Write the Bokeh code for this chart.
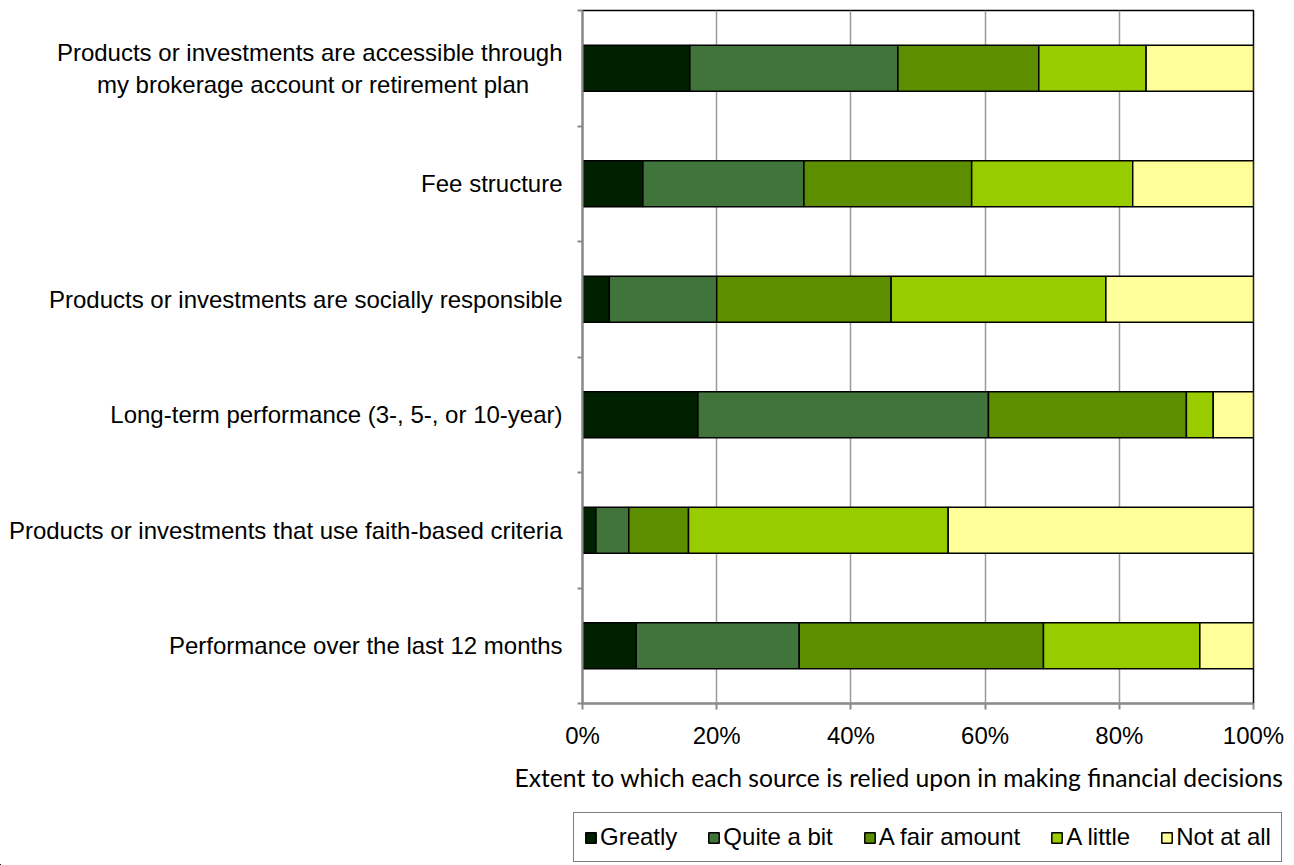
from bokeh.plotting import figure
from bokeh.models import (ColumnDataSource, Range1d, FixedTicker, Legend,
                          LegendItem, PrintfTickFormatter, Title)
from bokeh.embed import file_html
from bokeh.resources import INLINE

# Factors, listed from the top of the chart to the bottom
categories = [
    "Products or investments are accessible through\nmy brokerage account or retirement plan",
    "Fee structure",
    "Products or investments are socially responsible",
    "Long-term performance (3-, 5-, or 10-year)",
    "Products or investments that use faith-based criteria",
    "Performance over the last 12 months",
]

# Share of respondents (%) for each answer
greatly = [16.0, 9.0, 4.0, 17.2, 2.0, 8.0]
quite_a_bit = [31.0, 24.0, 16.0, 43.3, 4.9, 24.3]
a_fair_amount = [21.0, 25.0, 26.0, 29.5, 8.9, 36.4]
a_little = [16.0, 24.0, 32.0, 4.0, 38.7, 23.3]
not_at_all = [16.0, 18.0, 22.0, 6.0, 45.5, 8.0]

series_labels = ["Greatly", "Quite a bit", "A fair amount", "A little", "Not at all"]
series_keys = ["greatly", "quite_a_bit", "a_fair_amount", "a_little", "not_at_all"]
colors = ["#002000", "#41743A", "#5C8E00", "#99CC00", "#FFFF99"]

x_ticks = [0, 20, 40, 60, 80, 100]
x_title = "Extent to which each source is relied upon in making financial decisions"

n = len(categories)
# first category sits in the top band
y_pos = [n - i - 0.5 for i in range(n)]


def centred_lines(name):
    """Tick labels are right-aligned; pad shorter lines with no-break spaces
    (an average letter is about 1.4 spaces wide) so the lines look centred."""
    lines = name.split("\n")
    if len(lines) == 1:
        return name
    longest = max(len(s) for s in lines)
    return "\n".join(s + "\u00a0" * int(round((longest - len(s)) * 1.4 / 2)) for s in lines)


source = ColumnDataSource(dict(
    y=y_pos,
    greatly=greatly,
    quite_a_bit=quite_a_bit,
    a_fair_amount=a_fair_amount,
    a_little=a_little,
    not_at_all=not_at_all,
))

AXIS_GRAY = "#8a8a8a"
SANS = "Liberation Sans"
BAR_STYLE = dict(height=0.4, line_color="black", line_width=1.5)

p = figure(frame_width=671, frame_height=693, output_backend="svg", toolbar_location=None,
           x_range=Range1d(0, 100), y_range=Range1d(0, n),
           min_border_left=582, min_border_right=41, min_border_top=10,
           min_border_bottom=102)
p.background_fill_color = "white"
p.border_fill_color = "white"
p.outline_line_color = "black"
p.outline_line_width = 1.5

p.hbar_stack(series_keys, y="y", color=colors, source=source, **BAR_STYLE)

# x axis: percent scale with outward ticks
xa = p.xaxis[0]
xa.ticker = FixedTicker(ticks=x_ticks)
xa.formatter = PrintfTickFormatter(format="%d%%")
xa.axis_line_color = AXIS_GRAY
xa.axis_line_width = 2
xa.major_tick_line_color = AXIS_GRAY
xa.major_tick_line_width = 2
xa.major_tick_out = 6
xa.major_tick_in = 0
xa.minor_tick_line_color = None
xa.major_label_standoff = 12
xa.major_label_text_font = SANS
xa.major_label_text_font_size = "24px"
xa.major_label_text_color = "black"

# y axis: ticks between the category bands, category names at the band centres
ya = p.yaxis[0]
ya.ticker = FixedTicker(ticks=y_pos, minor_ticks=list(range(n + 1)))
ya.major_label_overrides = {y: centred_lines(name) for y, name in zip(y_pos, categories)}
ya.axis_line_color = AXIS_GRAY
ya.axis_line_width = 2
ya.major_tick_line_color = None
ya.major_tick_out = 0
ya.major_tick_in = 0
ya.minor_tick_line_color = AXIS_GRAY
ya.minor_tick_line_width = 2
ya.minor_tick_out = 5
ya.minor_tick_in = 0
ya.major_label_standoff = 15
ya.major_label_text_font = SANS
ya.major_label_text_font_size = "24px"
ya.major_label_text_color = "black"

p.ygrid.visible = False
p.xgrid.ticker = FixedTicker(ticks=x_ticks[1:-1])
p.xgrid.grid_line_color = "#9a9a9a"
p.xgrid.grid_line_width = 1.5

# axis title, right-aligned under the axis
p.add_layout(Title(text=x_title, align="right", offset=-30, standoff=19,
                   text_font="Lato", text_font_size="24.7px", text_font_style="normal",
                   text_color="black"), "below")

# legend strip underneath the chart (a separate root, so its frame spans the page).
# It holds the same stacked bars, kept well outside its visible ranges, only to
# feed the legend swatches.
lg = figure(width=1294, height=60, output_backend="svg", toolbar_location=None,
            x_range=Range1d(1000, 1100), y_range=Range1d(50, 51),
            min_border=0, min_border_left=0, min_border_right=0,
            min_border_top=0, min_border_bottom=0)
lg.axis.visible = False
lg.grid.visible = False
lg.outline_line_color = None
lg.background_fill_color = "white"
lg.border_fill_color = "white"

swatches = lg.hbar_stack(series_keys, y="y", color=colors, source=source, **BAR_STYLE)

legend = Legend(
    items=[LegendItem(label=lab, renderers=[r]) for lab, r in zip(series_labels, swatches)],
    orientation="horizontal",
    location=(573, 3),
    margin=0,
    border_line_color="black",
    border_line_width=1,
    background_fill_color="white",
    background_fill_alpha=1.0,
    padding=10,
    spacing=30,
    glyph_width=13,
    glyph_height=13,
    label_standoff=3,
    label_text_font=SANS,
    label_text_font_size="24px",
    label_text_color="black",
)
lg.add_layout(legend)

open("out.html", "w").write(file_html([p, lg], INLINE))
